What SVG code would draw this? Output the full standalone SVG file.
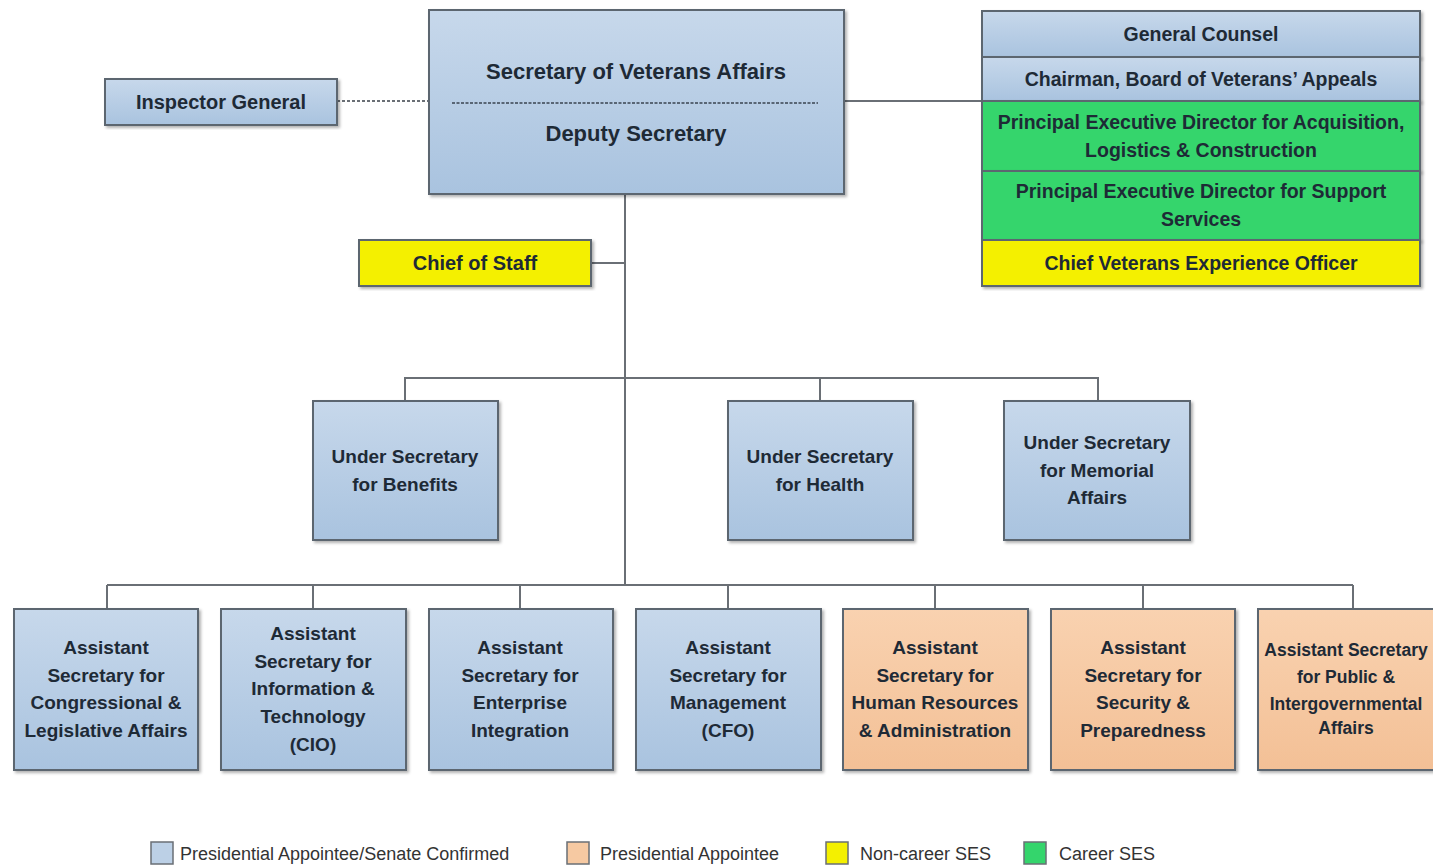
<svg xmlns="http://www.w3.org/2000/svg" width="1433" height="867" viewBox="0 0 1433 867">
<defs>
<linearGradient id="gb" x1="0" y1="0" x2="0" y2="1"><stop offset="0" stop-color="#c7d8eb"/><stop offset="1" stop-color="#a9c3df"/></linearGradient>
<linearGradient id="go" x1="0" y1="0" x2="0" y2="1"><stop offset="0" stop-color="#f9d2b0"/><stop offset="1" stop-color="#f3c096"/></linearGradient>
<filter id="sh" x="-5%" y="-5%" width="115%" height="115%"><feDropShadow dx="2" dy="2" stdDeviation="1.5" flood-color="#000" flood-opacity="0.3"/></filter>
</defs>
<style>
.box{stroke:#5c6670;stroke-width:2;filter:url(#sh)}
.blue{fill:url(#gb)}
.orange{fill:url(#go)}
.yellow{fill:#f4f000}
.green{fill:#34d56c}
.t{font-family:"Liberation Sans",Arial,sans-serif;font-weight:bold;font-size:19px;fill:#1e2a36;text-anchor:middle}
.ts{font-size:19.5px}
.tl{font-size:22px}
.tm{font-size:20px}
.conn{stroke:#6a6f75;stroke-width:2;fill:none}
.leg{font-family:"Liberation Sans",Arial,sans-serif;font-size:18px;fill:#333}
.lbox{stroke:#6a6f75;stroke-width:1.5}
</style>
<rect width="1433" height="867" fill="#ffffff"/>
<g id="connectors">
<line class="conn" x1="337" y1="101" x2="429" y2="101" stroke-dasharray="3,2"/>
<line class="conn" x1="844" y1="101" x2="982" y2="101"/>
<line class="conn" x1="625" y1="194" x2="625" y2="585"/>
<line class="conn" x1="591" y1="263" x2="625" y2="263"/>
<polyline class="conn" points="405,401 405,378 1098,378 1098,401"/>
<line class="conn" x1="820" y1="378" x2="820" y2="401"/>
<line class="conn" x1="107" y1="585" x2="1353" y2="585"/>
<line class="conn" x1="107" y1="585" x2="107" y2="609"/>
<line class="conn" x1="313" y1="585" x2="313" y2="609"/>
<line class="conn" x1="520" y1="585" x2="520" y2="609"/>
<line class="conn" x1="728" y1="585" x2="728" y2="609"/>
<line class="conn" x1="935" y1="585" x2="935" y2="609"/>
<line class="conn" x1="1143" y1="585" x2="1143" y2="609"/>
<line class="conn" x1="1353" y1="585" x2="1353" y2="609"/>
</g>
<g id="secretary">
<rect class="box blue" x="429" y="10" width="415" height="184"/>
<text class="t tl" x="636" y="79">Secretary of Veterans Affairs</text>
<line x1="452" y1="103" x2="818" y2="103" stroke="#3a4450" stroke-width="1.5" stroke-dasharray="3,1.5"/>
<text class="t tl" x="636" y="141">Deputy Secretary</text>
</g>
<g id="inspector-general">
<rect class="box blue" x="105" y="79" width="232" height="46"/>
<text class="t tm" x="221" y="109">Inspector General</text>
</g>
<g id="chief-of-staff">
<rect class="box yellow" x="359" y="240" width="232" height="46"/>
<text class="t tm" x="475" y="270">Chief of Staff</text>
</g>
<g id="right-stack">
<g id="general-counsel">
<rect class="box blue" x="982" y="11" width="438" height="46"/>
<text class="t ts" x="1201" y="41">General Counsel</text>
</g>
<g id="chairman-bva">
<rect class="box blue" x="982" y="57" width="438" height="44"/>
<text class="t ts" x="1201" y="86">Chairman, Board of Veterans’ Appeals</text>
</g>
<g id="ped-acquisition">
<rect class="box green" x="982" y="101" width="438" height="70"/>
<text class="t ts" x="1201" y="129">Principal Executive Director for Acquisition,</text>
<text class="t ts" x="1201" y="157">Logistics &amp; Construction</text>
</g>
<g id="ped-support">
<rect class="box green" x="982" y="171" width="438" height="69"/>
<text class="t ts" x="1201" y="198">Principal Executive Director for Support</text>
<text class="t ts" x="1201" y="226">Services</text>
</g>
<g id="chief-veo">
<rect class="box yellow" x="982" y="240" width="438" height="46"/>
<text class="t ts" x="1201" y="270">Chief Veterans Experience Officer</text>
</g>
</g>
<g id="us-benefits">
<rect class="box blue" x="313" y="401" width="185" height="139"/>
<text class="t" x="405" y="463">Under Secretary</text>
<text class="t" x="405" y="491">for Benefits</text>
</g>
<g id="us-health">
<rect class="box blue" x="728" y="401" width="185" height="139"/>
<text class="t" x="820" y="463">Under Secretary</text>
<text class="t" x="820" y="491">for Health</text>
</g>
<g id="us-memorial">
<rect class="box blue" x="1004" y="401" width="186" height="139"/>
<text class="t" x="1097" y="449">Under Secretary</text>
<text class="t" x="1097" y="477">for Memorial</text>
<text class="t" x="1097" y="504">Affairs</text>
</g>
<g id="as-congressional">
<rect class="box blue" x="14" y="609" width="184" height="161"/>
<text class="t" x="106" y="654">Assistant</text>
<text class="t" x="106" y="682">Secretary for</text>
<text class="t" x="106" y="709">Congressional &amp;</text>
<text class="t" x="106" y="737">Legislative Affairs</text>
</g>
<g id="as-it">
<rect class="box blue" x="221" y="609" width="185" height="161"/>
<text class="t" x="313" y="640">Assistant</text>
<text class="t" x="313" y="668">Secretary for</text>
<text class="t" x="313" y="695">Information &amp;</text>
<text class="t" x="313" y="723">Technology</text>
<text class="t" x="313" y="751">(CIO)</text>
</g>
<g id="as-enterprise">
<rect class="box blue" x="429" y="609" width="184" height="161"/>
<text class="t" x="520" y="654">Assistant</text>
<text class="t" x="520" y="682">Secretary for</text>
<text class="t" x="520" y="709">Enterprise</text>
<text class="t" x="520" y="737">Integration</text>
</g>
<g id="as-management">
<rect class="box blue" x="636" y="609" width="185" height="161"/>
<text class="t" x="728" y="654">Assistant</text>
<text class="t" x="728" y="682">Secretary for</text>
<text class="t" x="728" y="709">Management</text>
<text class="t" x="728" y="737">(CFO)</text>
</g>
<g id="as-hr">
<rect class="box orange" x="843" y="609" width="185" height="161"/>
<text class="t" x="935" y="654">Assistant</text>
<text class="t" x="935" y="682">Secretary for</text>
<text class="t" x="935" y="709">Human Resources</text>
<text class="t" x="935" y="737">&amp; Administration</text>
</g>
<g id="as-security">
<rect class="box orange" x="1051" y="609" width="184" height="161"/>
<text class="t" x="1143" y="654">Assistant</text>
<text class="t" x="1143" y="682">Secretary for</text>
<text class="t" x="1143" y="709">Security &amp;</text>
<text class="t" x="1143" y="737">Preparedness</text>
</g>
<g id="as-public">
<rect class="box orange" x="1258" y="609" width="186" height="161"/>
<text class="t" x="1346" y="656" style="font-size:17.5px">Assistant Secretary</text>
<text class="t" x="1346" y="683" style="font-size:17.5px">for Public &amp;</text>
<text class="t" x="1346" y="710" style="font-size:17.5px">Intergovernmental</text>
<text class="t" x="1346" y="734" style="font-size:17.5px">Affairs</text>
</g>
<g id="legend">
<rect class="lbox" x="151" y="842" width="22" height="22" fill="#bcd0e6"/>
<text class="leg" x="180" y="860">Presidential Appointee/Senate Confirmed</text>
<rect class="lbox" x="567" y="842" width="22" height="22" fill="#f6c9a2"/>
<text class="leg" x="600" y="860">Presidential Appointee</text>
<rect class="lbox" x="826" y="842" width="22" height="22" fill="#f4f000"/>
<text class="leg" x="860" y="860">Non-career SES</text>
<rect class="lbox" x="1024" y="842" width="22" height="22" fill="#34d56c"/>
<text class="leg" x="1059" y="860">Career SES</text>
</g>
</svg>
